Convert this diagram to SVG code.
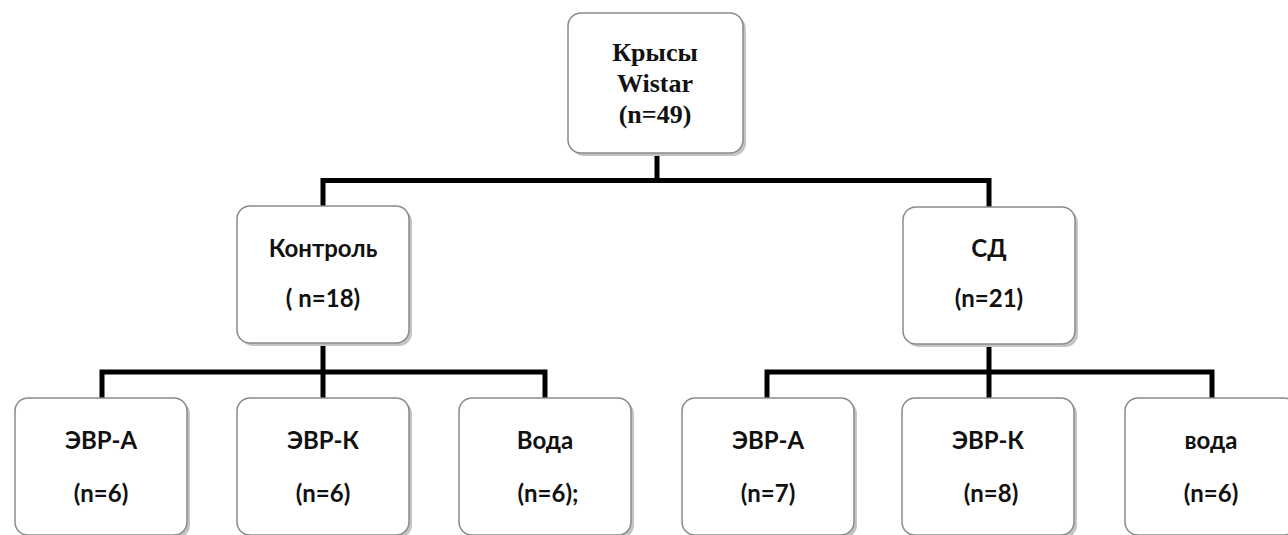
<svg xmlns="http://www.w3.org/2000/svg" width="1288" height="535" viewBox="0 0 1288 535">
<style>
.sh{fill:#c4c4c4;stroke:none}
.box{fill:#fff;stroke:#8a8a8a;stroke-width:1.5}
.t{font-family:Lato,"Open Sans",sans-serif;font-size:24px;fill:#111;text-anchor:middle;font-weight:bold}
.tt{font-family:"Liberation Serif",serif;font-size:26px;font-weight:bold;fill:#111;text-anchor:middle}
.c{fill:none;stroke:#000;stroke-width:5;stroke-linejoin:miter}
</style>
<rect width="1288" height="535" fill="#fff"/>
<g id="connectors">
<path class="c" d="M657,153 V180.5"/>
<path class="c" d="M323,206 V180.5 H989 V207"/>
<path class="c" d="M323,343 V398"/>
<path class="c" d="M102,398 V372 H545 V398"/>
<path class="c" d="M989,343 V398"/>
<path class="c" d="M767,398 V372 H1212 V398"/>
</g>
<g id="n-root">
<rect class="sh" x="571" y="16" width="175" height="140" rx="13"/>
<rect class="box" x="568" y="13" width="175" height="140" rx="13"/>
<text class="tt" x="655" y="61">Крысы</text>
<text class="tt" x="655" y="92">Wistar</text>
<text class="tt" x="655" y="123">(n=49)</text>
</g>
<g id="n-control">
<rect class="sh" x="240" y="209" width="172" height="137" rx="13"/>
<rect class="box" x="237" y="206" width="172" height="137" rx="13"/>
<text class="t" x="323" y="257">Контроль</text>
<text class="t" x="323" y="307">( n=18)</text>
</g>
<g id="n-sd">
<rect class="sh" x="906" y="210" width="172" height="137" rx="13"/>
<rect class="box" x="903" y="207" width="172" height="137" rx="13"/>
<text class="t" x="989" y="257">СД</text>
<text class="t" x="989" y="307">(n=21)</text>
</g>
<g id="n-c-evra">
<rect class="sh" x="18" y="401" width="172" height="137" rx="13"/>
<rect class="box" x="15" y="398" width="172" height="137" rx="13"/>
<text class="t" x="101" y="449">ЭВР-А</text>
<text class="t" x="101" y="502">(n=6)</text>
</g>
<g id="n-c-evrk">
<rect class="sh" x="240" y="401" width="172" height="137" rx="13"/>
<rect class="box" x="237" y="398" width="172" height="137" rx="13"/>
<text class="t" x="323" y="449">ЭВР-К</text>
<text class="t" x="323" y="502">(n=6)</text>
</g>
<g id="n-c-voda">
<rect class="sh" x="462" y="401" width="172" height="137" rx="13"/>
<rect class="box" x="459" y="398" width="172" height="137" rx="13"/>
<text class="t" x="545" y="449">Вода</text>
<text class="t" x="548" y="502">(n=6);</text>
</g>
<g id="n-s-evra">
<rect class="sh" x="685" y="401" width="172" height="137" rx="13"/>
<rect class="box" x="682" y="398" width="172" height="137" rx="13"/>
<text class="t" x="768" y="449">ЭВР-А</text>
<text class="t" x="768" y="502">(n=7)</text>
</g>
<g id="n-s-evrk">
<rect class="sh" x="905" y="401" width="172" height="137" rx="13"/>
<rect class="box" x="902" y="398" width="172" height="137" rx="13"/>
<text class="t" x="988" y="449">ЭВР-К</text>
<text class="t" x="991" y="502">(n=8)</text>
</g>
<g id="n-s-voda">
<rect class="sh" x="1128" y="401" width="172" height="137" rx="13"/>
<rect class="box" x="1125" y="398" width="172" height="137" rx="13"/>
<text class="t" x="1211" y="449">вода</text>
<text class="t" x="1211" y="502">(n=6)</text>
</g>
</svg>
